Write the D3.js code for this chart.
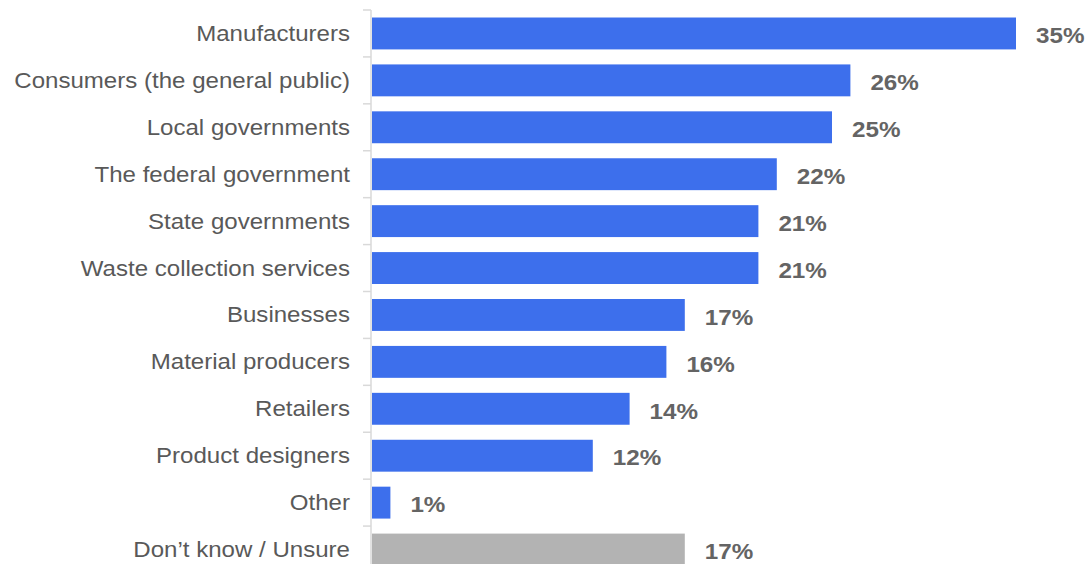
<!DOCTYPE html>
<html>
<head>
<meta charset="utf-8">
<script src="https://cdn.jsdelivr.net/npm/d3@7"></script>
<style>
  html, body { margin: 0; padding: 0; background: #fff; }
  svg { display: block; font-family: "Liberation Sans", Arial, sans-serif; }
</style>
</head>
<body>
<svg id="chart" width="1089" height="564"></svg>
<script>
// Who respondents hold responsible (share of respondents, %)
const categories = [
  "Manufacturers",
  "Consumers (the general public)",
  "Local governments",
  "The federal government",
  "State governments",
  "Waste collection services",
  "Businesses",
  "Material producers",
  "Retailers",
  "Product designers",
  "Other",
  "Don\u2019t know / Unsure"
];
const values = [35, 26, 25, 22, 21, 21, 17, 16, 14, 12, 1, 17];
const neutralCategories = ["Don\u2019t know / Unsure"];

const svg = d3.select("#chart");
const axisX = 371;
const barStart = 372;
const labelStretch = 1.12; // slightly wide lettering
const valueStretch = 1.1;

const x = d3.scaleLinear().domain([0, 35]).range([barStart, 1016]);
const y = d3.scaleBand()
  .domain(categories)
  .range([10, 573])
  .paddingInner(0.32)
  .paddingOuter(0.16);

const step = y.step();
const bandTop = d => y(d) - (step - y.bandwidth()) / 2;
const mid = d => y(d) + y.bandwidth() / 2;

// Category axis: vertical rule with ticks between categories
const axis = svg.append("g").attr("class", "axis");
axis.append("line")
  .attr("x1", axisX).attr("x2", axisX)
  .attr("y1", 10).attr("y2", 573)
  .attr("stroke", "#d9d9d9").attr("stroke-width", 1.5);
axis.selectAll("line.tick")
  .data(categories)
  .join("line")
  .attr("class", "tick")
  .attr("x1", axisX - 8).attr("x2", axisX)
  .attr("y1", d => bandTop(d)).attr("y2", d => bandTop(d))
  .attr("stroke", "#d9d9d9").attr("stroke-width", 1.5);

// Category labels
svg.append("g")
  .selectAll("text")
  .data(categories)
  .join("text")
  .attr("transform", d => `translate(350,${mid(d)}) scale(${labelStretch},1)`)
  .attr("dy", "0.35em")
  .attr("text-anchor", "end")
  .attr("font-size", 21.5)
  .attr("fill", "#595959")
  .text(d => d);

// Bars
const rows = categories.map((c, i) => ({ c, v: values[i] }));
svg.append("g")
  .selectAll("rect")
  .data(rows)
  .join("rect")
  .attr("x", barStart)
  .attr("y", d => y(d.c))
  .attr("width", d => x(d.v) - barStart)
  .attr("height", y.bandwidth())
  .attr("fill", d => neutralCategories.includes(d.c) ? "#b3b3b3" : "#3d6fec");

// Value labels
svg.append("g")
  .selectAll("text")
  .data(rows)
  .join("text")
  .attr("transform", d => `translate(${x(d.v) + 20},${mid(d.c) + 2}) scale(${valueStretch},1)`)
  .attr("dy", "0.35em")
  .attr("font-size", 22)
  .attr("font-weight", "bold")
  .attr("fill", "#646464")
  .text(d => d.v + "%");
</script>
</body>
</html>
